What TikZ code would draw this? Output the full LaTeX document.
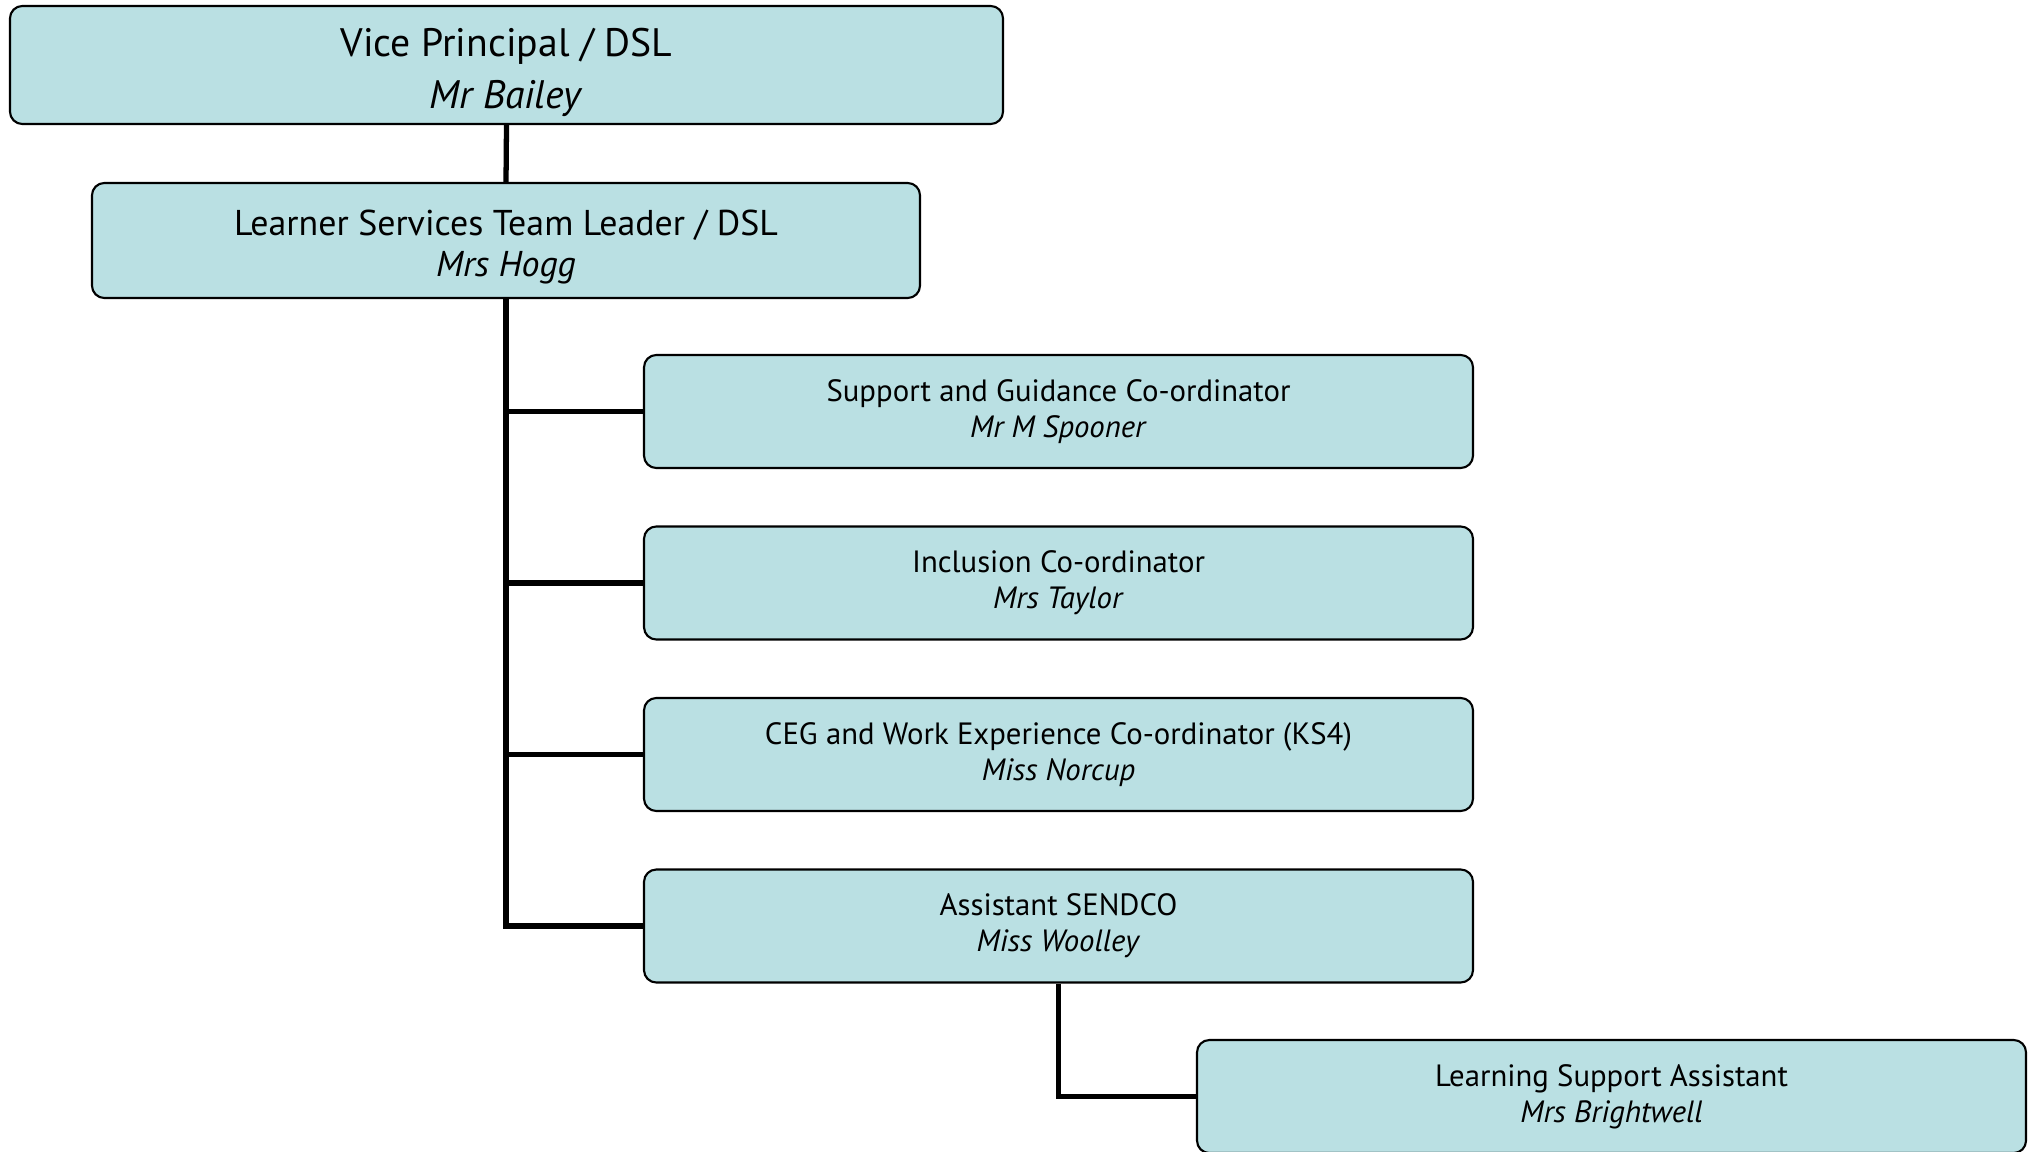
\documentclass[tikz,border=0pt]{standalone}
\usepackage{fontspec}
\setmainfont{PT Sans}
\usepackage{tikz}
\usetikzlibrary{positioning, calc}
\definecolor{boxteal}{RGB}{186,224,227}
\newcommand{\toplift}{\rule{0pt}{1.08em}}

\tikzset{
  rolebox/.style={draw=black, line width=0.6pt, fill=boxteal, rounded corners=3.5pt,
    align=center, inner sep=0pt},
  childbox/.style={rolebox, minimum width=829*0.01cm, minimum height=113*0.01cm,
    font=\fontsize{8.75}{10.2}\selectfont},
  link/.style={line width=1.5pt}
}

\begin{document}
\begin{tikzpicture}[x=0.01cm, y=-0.01cm]
    \useasboundingbox (0,0) rectangle (2031,1152);

    % top of the team
    \node[rolebox, minimum width=993*0.01cm, minimum height=118*0.01cm,
      font=\fontsize{11.3}{14.7}\selectfont] (vp) at (506.5,65)
      {\toplift Vice Principal / DSL\\ \textit{Mr Bailey}};
    \node[rolebox, minimum width=828*0.01cm, minimum height=115*0.01cm,
      font=\fontsize{10.2}{11.8}\selectfont] (lst) at (506,240.5)
      {\toplift Learner Services Team Leader / DSL\\ \textit{Mrs Hogg}};

    % co-ordinators
    \node[childbox] (sgc) at (1058.5,411.5) {Support and Guidance Co-ordinator\\ \textit{Mr M Spooner}};
    \node[childbox] (inc) at (1058.5,583) {Inclusion Co-ordinator\\ \textit{Mrs Taylor}};
    \node[childbox] (ceg) at (1058.5,754.5) {CEG and Work Experience Co-ordinator (KS4)\\ \textit{Miss Norcup}};
    \node[childbox] (asst) at (1058.5,926) {Assistant SENDCO\\ \textit{Miss Woolley}};

    % support staff
    \node[childbox] (lsa) at (1611.5,1096.5) {Learning Support Assistant\\ \textit{Mrs Brightwell}};

    % links
    \draw[link] (vp.south) -- (lst.north);
    \draw[link] (lst.south) |- (sgc.west);
    \draw[link] (lst.south) |- (inc.west);
    \draw[link] (lst.south) |- (ceg.west);
    \draw[link] (lst.south) |- (asst.west);
    \draw[link] (asst.south) |- (lsa.west);
\end{tikzpicture}
\end{document}
